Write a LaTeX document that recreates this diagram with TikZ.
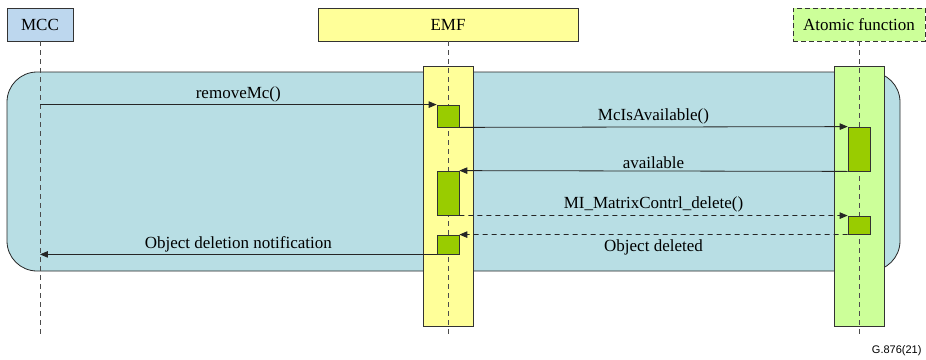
\documentclass[tikz,border=0pt]{standalone}
\usepackage{fontspec}
\setmainfont{Liberation Serif}
\setsansfont{Liberation Sans}
\usetikzlibrary{positioning,arrows}
\definecolor{mccblue}{RGB}{189,215,238}
\definecolor{emfyellow}{RGB}{255,255,153}
\definecolor{atomgreen}{RGB}{204,255,153}
\definecolor{regionblue}{RGB}{184,222,228}
\definecolor{actgreen}{RGB}{153,204,0}
\tikzset{
  header/.style={draw=black!80, line width=0.8pt, inner sep=0pt, minimum height=33pt,
    font=\fontsize{17}{20}\selectfont},
  bar/.style={draw=black!80, line width=0.8pt, inner sep=0pt, minimum width=50pt, minimum height=260pt},
  act/.style={draw=black!80, line width=0.8pt, fill=actgreen, inner sep=0pt, minimum width=22pt},
  lifeline/.style={draw=black!70, line width=0.9pt, dash pattern=on 5pt off 4pt},
  msg/.style={draw=black!85, line width=0.8pt, -triangle 45},
  reply/.style={msg, dash pattern=on 5pt off 4pt},
  msglabel/.style={font=\fontsize{17}{20}\selectfont, inner sep=2pt}
}
\begin{document}
\begin{tikzpicture}[x=1pt, y=-1pt]
    \useasboundingbox (0,0) rectangle (926,359);

    % grouping region
    \draw[draw=black!85, line width=0.8pt, fill=regionblue, rounded corners=30pt] (7,72) rectangle (900,271);

    % participants
    \node[header, fill=mccblue, minimum width=66pt] (mcc) at (40,24.5) {MCC};
    \node[header, fill=emfyellow, minimum width=260pt] (emf) at (448,24.5) {EMF};
    \node[header, fill=atomgreen, minimum width=132pt, dashed, dash pattern=on 5pt off 3pt] (atom) at (859,24.5) {Atomic function};

    % activation bars
    \node[bar, fill=emfyellow] (emfbar) at (448,196) {};
    \node[bar, fill=atomgreen] (atombar) at (859,196) {};

    % lifelines
    \coordinate (mccend) at (40,338);
    \coordinate (emfend) at (448,338);
    \coordinate (atomend) at (859,338);
    \draw[lifeline] (mcc.south) -- (mccend);
    \draw[lifeline] (emf.south) -- (emfend);
    \draw[lifeline] (atom.south) -- (atomend);

    % activations
    \node[act, minimum height=22pt] (e1) at (448,116) {};
    \node[act, minimum height=44pt] (e2) at (448,193) {};
    \node[act, minimum height=19pt] (e3) at (448,244.5) {};
    \node[act, minimum height=44pt] (a1) at (859,149) {};
    \node[act, minimum height=18pt] (a2) at (859,225) {};

    % messages
    \draw[msg] (mccend |- e1.north west) -- node[msglabel, above] {removeMc()} (e1.north west);
    \draw[msg] (e1.south east) -- node[msglabel, above] {McIsAvailable()} (a1.north west);
    \draw[msg] (a1.south west) -- node[msglabel, above] {available} (e2.north east);
    \draw[reply] (e2.south east) -- node[msglabel, above, yshift=1pt] {MI\_MatrixContrl\_delete()} (a2.north west);
    \draw[reply] (a2.south west) -- node[msglabel, below, yshift=-3pt] {Object deleted} (e3.north east);
    \draw[msg] (e3.south west) -- node[msglabel, above] {Object deletion notification} (mccend |- e3.south west);

    \node[font=\sffamily\fontsize{11}{13}\selectfont, anchor=east] (fig) at (925,351) {G.876(21)};
\end{tikzpicture}
\end{document}
